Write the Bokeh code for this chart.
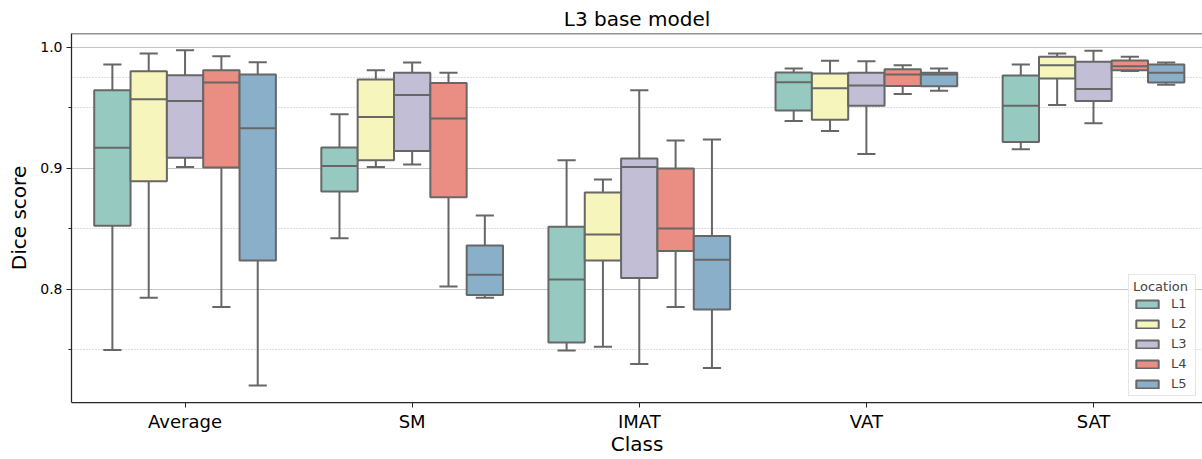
from bokeh.plotting import figure
from bokeh.models import ColumnDataSource, Range1d, FixedTicker, Span
from bokeh.embed import file_html
from bokeh.resources import INLINE

classes = ["Average", "SM", "IMAT", "VAT", "SAT"]
locations = ["L1", "L2", "L3", "L4", "L5"]
colors = ["#96cac1", "#f5f5bc", "#c1bed6", "#ea8d83", "#8aafc9"]

# values per location, listed in class order (Average, SM, IMAT, VAT, SAT)
whisker_low = {
    "L1": [0.7498, 0.8422, 0.7494, 0.9390, 0.9156],
    "L2": [0.7930, 0.9010, 0.7525, 0.9307, 0.9522],
    "L3": [0.9010, 0.9031, 0.7384, 0.9117, 0.9371],
    "L4": [0.7853, 0.8024, 0.7853, 0.9614, 0.9804],
    "L5": [0.7205, 0.7930, 0.7351, 0.9641, 0.9690],
}
q1 = {
    "L1": [0.8526, 0.8808, 0.7560, 0.9478, 0.9216],
    "L2": [0.8893, 0.9065, 0.8237, 0.9401, 0.9741],
    "L3": [0.9087, 0.9142, 0.8093, 0.9517, 0.9556],
    "L4": [0.9007, 0.8760, 0.8317, 0.9680, 0.9810],
    "L5": [0.8237, 0.7953, 0.7834, 0.9677, 0.9708],
}
median = {
    "L1": [0.9170, 0.9018, 0.8082, 0.9710, 0.9517],
    "L2": [0.9570, 0.9423, 0.8452, 0.9660, 0.9851],
    "L3": [0.9556, 0.9605, 0.9010, 0.9683, 0.9655],
    "L4": [0.9708, 0.9410, 0.8502, 0.9774, 0.9843],
    "L5": [0.9330, 0.8121, 0.8245, 0.9774, 0.9788],
}
q3 = {
    "L1": [0.9644, 0.9172, 0.8516, 0.9790, 0.9766],
    "L2": [0.9801, 0.9733, 0.8800, 0.9782, 0.9920],
    "L3": [0.9768, 0.9788, 0.9081, 0.9788, 0.9879],
    "L4": [0.9810, 0.9705, 0.8998, 0.9818, 0.9890],
    "L5": [0.9774, 0.8361, 0.8441, 0.9788, 0.9857],
}
whisker_high = {
    "L1": [0.9857, 0.9445, 0.9067, 0.9823, 0.9857],
    "L2": [0.9948, 0.9810, 0.8907, 0.9887, 0.9948],
    "L3": [0.9975, 0.9873, 0.9644, 0.9884, 0.9970],
    "L4": [0.9925, 0.9788, 0.9230, 0.9851, 0.9920],
    "L5": [0.9876, 0.8610, 0.9238, 0.9823, 0.9873],
}
y_major = [0.8, 0.9, 1.0]
y_minor = [0.75, 0.85, 0.95]
extra_dotted = [0.975]

FONT = "DejaVu Sans"
EDGE = "#676767"
SPINE = "#262626"
BOX_W = 0.16
CAP_W = 0.08

y_lo, y_hi = 0.7065, 1.0113

p = figure(width=1202, height=459, output_backend="svg", toolbar_location=None,
           x_range=Range1d(-0.5, 4.48), y_range=Range1d(y_lo, y_hi),
           min_border_left=71, min_border_right=0, min_border_top=33, min_border_bottom=57,
           title="L3 base model")
p.outline_line_color = None
p.background_fill_color = "white"
p.border_fill_color = "white"

p.title.align = "center"
p.title.text_font = FONT
p.title.text_font_size = "20px"
p.title.text_font_style = "normal"
p.title.text_color = "#000000"
p.title.standoff = 6

# grids
p.xgrid.grid_line_color = None
p.ygrid.ticker = FixedTicker(ticks=y_major, minor_ticks=y_minor)
p.ygrid.grid_line_color = "#c4c4c4"
p.ygrid.grid_line_width = 1.2
p.ygrid.minor_grid_line_color = "#b8b8b8"
p.ygrid.minor_grid_line_dash = "1 2"
p.ygrid.minor_grid_line_width = 1
for v in extra_dotted:
    p.add_layout(Span(location=v, dimension="width", line_color="#b8b8b8",
                      line_dash="1 2", line_width=1, level="underlay"))

# axes
p.yaxis.ticker = FixedTicker(ticks=y_major, minor_ticks=y_minor)
p.yaxis.major_label_overrides = {t: f"{t:.1f}" for t in y_major}
p.xaxis.ticker = FixedTicker(ticks=list(range(len(classes))))
p.xaxis.major_label_overrides = {i: c for i, c in enumerate(classes)}
for ax in (p.xaxis[0], p.yaxis[0]):
    ax.axis_line_color = SPINE
    ax.axis_line_width = 1.25
    ax.major_tick_line_color = SPINE
    ax.minor_tick_line_color = SPINE
    ax.major_tick_in = 0
    ax.major_tick_out = 5
    ax.minor_tick_in = 0
    ax.minor_tick_out = 3
    ax.axis_label_text_font = FONT
    ax.axis_label_text_font_style = "normal"
    ax.axis_label_text_font_size = "20px"
    ax.axis_label_text_color = "#000000"
    ax.major_label_text_font = FONT
    ax.major_label_text_color = "#000000"
p.xaxis.minor_tick_line_color = None
p.xaxis.axis_label = "Class"
p.yaxis.axis_label = "Dice score"
p.xaxis.major_label_text_font_size = "18px"
p.yaxis.major_label_text_font_size = "14px"
p.xaxis.major_label_standoff = 3
p.yaxis.major_label_standoff = 4
p.xaxis.axis_label_standoff = -3
p.yaxis.axis_label_standoff = 6

p.add_layout(Span(location=y_hi, dimension="width", line_color=SPINE, line_width=1.25))

n_loc = len(locations)
for j, loc in enumerate(locations):
    off = (j - (n_loc - 1) / 2) * BOX_W
    xs = [i + off for i in range(len(classes))]
    src = ColumnDataSource(dict(
        x=xs,
        x0=[x - BOX_W / 2 for x in xs], x1=[x + BOX_W / 2 for x in xs],
        c0=[x - CAP_W / 2 for x in xs], c1=[x + CAP_W / 2 for x in xs],
        lo=whisker_low[loc], q1=q1[loc], med=median[loc], q3=q3[loc], hi=whisker_high[loc],
    ))
    p.segment(x0="x", y0="lo", x1="x", y1="q1", source=src, line_color=EDGE, line_width=2)
    p.segment(x0="x", y0="q3", x1="x", y1="hi", source=src, line_color=EDGE, line_width=2)
    p.segment(x0="c0", y0="lo", x1="c1", y1="lo", source=src, line_color=EDGE, line_width=2)
    p.segment(x0="c0", y0="hi", x1="c1", y1="hi", source=src, line_color=EDGE, line_width=2)
    p.vbar(x="x", width=BOX_W, bottom="q1", top="q3", source=src,
           fill_color=colors[j], line_color=EDGE, line_width=2, legend_label=loc)
    p.segment(x0="x0", y0="med", x1="x1", y1="med", source=src, line_color=EDGE, line_width=2)

lg = p.legend[0]
lg.location = "bottom_right"
lg.title = "Location"
lg.title_text_font = FONT
lg.title_text_font_size = "13px"
lg.title_text_font_style = "normal"
lg.title_standoff = 2
lg.label_text_font = FONT
lg.label_text_font_size = "13px"
lg.glyph_width = 28
lg.glyph_height = 10
lg.label_height = 14
lg.spacing = 5
lg.padding = 4
lg.margin = 6
lg.border_line_color = "#cccccc"
lg.border_line_width = 1
lg.background_fill_alpha = 0.85
lg.label_standoff = 10

open("out.html", "w").write(file_html(p, INLINE))
